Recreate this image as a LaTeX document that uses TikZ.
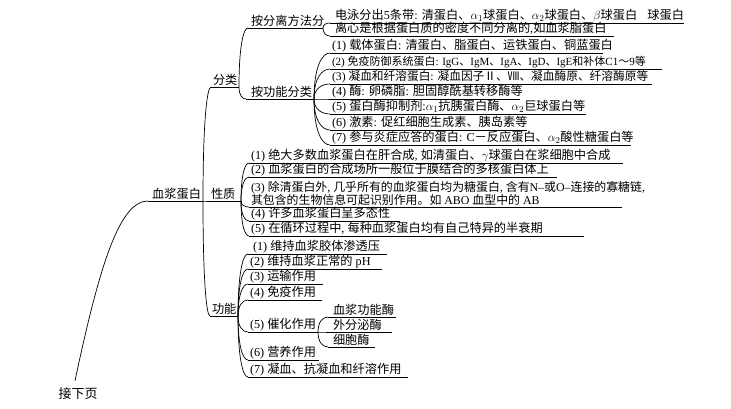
\documentclass[tikz,border=0pt]{standalone}
\usepackage{fontspec}
\setmainfont{Noto Sans CJK SC}
\newfontfamily\lat{Liberation Serif}
\usetikzlibrary{calc}
\newcommand\rmx[1]{{\lat #1}}
\newcommand\twol[2]{\vbox{\baselineskip=12.5pt\hbox{#1}\hbox{#2}}}
\newcommand\fsz[1]{\fontsize{#1}{14pt}\selectfont}
\tikzset{
  mm/.style={line width=0.7pt, black},
  lfs/.style={anchor=south west, inner xsep=0pt, inner ysep=1.2pt, outer sep=0pt,
    font=\fontsize{12.2pt}{14pt}\selectfont},
}
\newcommand\leafn[5]{%
  \node[lfs] (#1) at (#2,#3) {\makebox[\dimexpr #4pt-#2pt\relax][l]{\hspace*{2pt}#5}};
  \draw[mm] (#1.south west) -- (#1.south east);}
\newcommand\br[2]{%
  \draw[mm] (#1.south east) .. controls ($(#1.south east)!0.7!(#1.south east |- #2.south west)$)
    and ($(#1.south east |- #2.south west)!0.5!(#2.south west)$) .. (#2.south west);}
\begin{document}
\begin{tikzpicture}[x=1pt,y=-1pt]
\fill[white] (0,0) rectangle (731,409);
\useasboundingbox (0,0) rectangle (731,409);
% root
\leafn{root}{148}{201}{203}{\hfill 血浆蛋白\hspace{2pt}}
\node[font=\fontsize{13pt}{15pt}\selectfont, inner ysep=7pt] (jx) at (78,394) {接下页};
\draw[mm] ([xshift=-3pt]jx.north) .. controls +(25,-118) and +(-28,0) .. (root.south west);
% level 1
\leafn{fl}{211}{87}{239}{分类}
\leafn{xz}{209}{201}{241}{性质}
\leafn{gn}{210}{316}{238}{功能}
\br{root}{fl}\br{root}{xz}\br{root}{gn}
% 分类
\leafn{a1}{248}{28}{323}{\hspace*{1pt}按分离方法分}
\leafn{a2}{246}{99}{314}{\hspace*{3pt}按功能分类}
\br{fl}{a1}\br{fl}{a2}
\leafn{e1}{330}{23}{684}{\hspace*{3pt}电泳分出\rmx{5}条带\rmx{: }清蛋白、$\alpha_1$球蛋白、$\alpha_2$球蛋白、$\beta$球蛋白\hfill 球蛋白}
\leafn{e2}{330}{36}{614}{\hspace*{3pt}离心是根据蛋白质的密度不同分离的\rmx{,}如血浆脂蛋白}
\br{a1}{e1}\br{a1}{e2}
\leafn{f1}{330}{53}{603}{\rmx{(1) }载体蛋白\rmx{: }清蛋白、脂蛋白、运铁蛋白、铜蓝蛋白}
\leafn{f2}{330}{69}{662}{\fsz{11pt}\rmx{(2) }免疫防御系统蛋白\rmx{: IgG}、\rmx{IgM}、\rmx{IgA}、\rmx{IgD}、\rmx{IgE}和补体\rmx{C1}～\rmx{9}等}
\leafn{f3}{330}{84}{652}{\fsz{11.7pt}\rmx{(3) }凝血和纤溶蛋白\rmx{: }凝血因子Ⅱ、Ⅷ、凝血酶原、纤溶酶原等}
\leafn{f4}{330}{99}{520}{\rmx{(4) }酶\rmx{: }卵磷脂\rmx{: }胆固醇酰基转移酶等}
\leafn{f5}{330}{114}{586}{\rmx{(5) }蛋白酶抑制剂\rmx{:}$\alpha_1$抗胰蛋白酶、$\alpha_2$巨球蛋白等}
\leafn{f6}{330}{130}{527}{\rmx{(6) }激素\rmx{: }促红细胞生成素、胰岛素等}
\leafn{f7}{330}{145}{631}{\rmx{(7) }参与炎症应答的蛋白\rmx{: C}－反应蛋白、$\alpha_2$酸性糖蛋白等}
\foreach \k in {1,...,7} {\br{a2}{f\k}}
% 性质
\leafn{p1}{249}{163}{623}{\rmx{(1) }绝大多数血浆蛋白在肝合成\rmx{, }如清蛋白、$\gamma$球蛋白在浆细胞中合成}
\leafn{p2}{249}{177}{557}{\rmx{(2) }血浆蛋白的合成场所一般位于膜结合的多核蛋白体上}
\leafn{p3}{249}{207}{622}{\fsz{11.9pt}\twol{\rmx{(3) }除清蛋白外\rmx{, }几乎所有的血浆蛋白均为糖蛋白\rmx{, }含有\rmx{N–}或\rmx{O–}连接的寡糖链\rmx{,}}{其包含的生物信息可起识别作用。如\rmx{ ABO }血型中的\rmx{ AB}}}
\leafn{p4}{249}{221}{400}{\rmx{(4) }许多血浆蛋白呈多态性}
\leafn{p5}{249}{236}{584}{\rmx{(5) }在循环过程中\rmx{, }每种血浆蛋白均有自己特异的半衰期}
\foreach \k in {1,...,5} {\br{xz}{p\k}}
% 功能
\leafn{g1}{248}{254}{387}{\hspace*{3pt}\rmx{(1) }维持血浆胶体渗透压}
\leafn{g2}{248}{269}{382}{\rmx{(2) }维持血浆正常的\rmx{ pH}}
\leafn{g3}{248}{284}{323}{\rmx{(3) }运输作用}
\leafn{g4}{248}{300}{322}{\rmx{(4) }免疫作用}
\leafn{g5}{248}{332}{318}{\rmx{(5) }催化作用}
\leafn{g6}{248}{360}{319}{\rmx{(6) }营养作用}
\leafn{g7}{248}{377}{408}{\rmx{(7) }凝血、抗凝血和纤溶作用}
\foreach \k in {1,...,7} {\br{gn}{g\k}}
\leafn{h1}{328}{317}{396}{\hspace*{3pt}血浆功能酶}
\leafn{h2}{328}{332}{392}{\hspace*{3pt}外分泌酶}
\leafn{h3}{328}{347}{375}{\hspace*{3pt}细胞酶}
\br{g5}{h1}\br{g5}{h2}\br{g5}{h3}
\end{tikzpicture}
\end{document}
